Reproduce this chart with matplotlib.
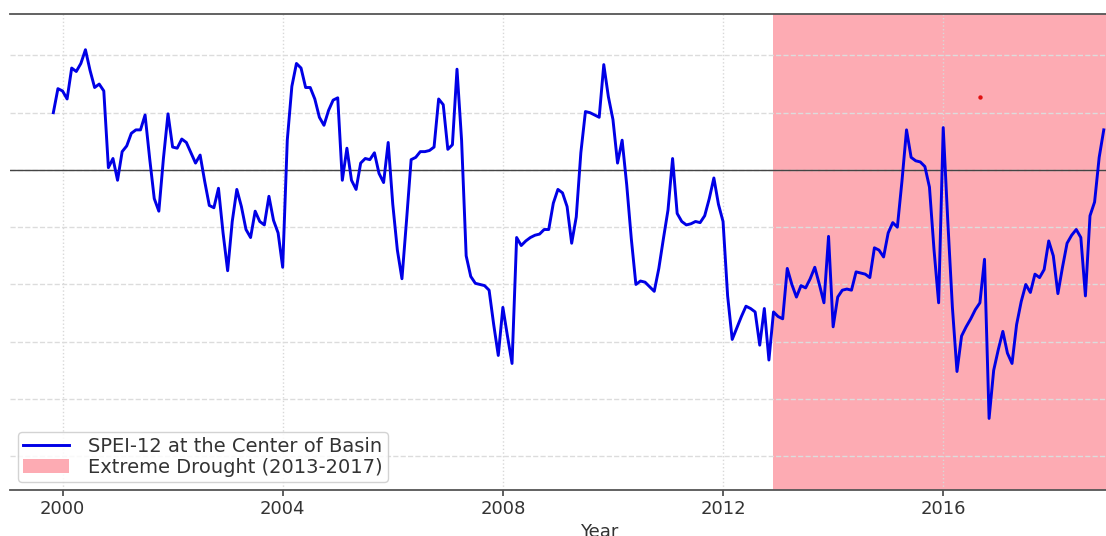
import matplotlib
matplotlib.use("Agg")
import matplotlib.pyplot as plt
import numpy as np
import pandas as pd

# ---- data (monthly SPEI-12) ----
start_month = "1999-11"
spei_values = [
    # 1999 Nov-Dec
    0.50, 0.71,
    # 2000
    0.69, 0.62, 0.89, 0.86, 0.93, 1.05, 0.87, 0.72, 0.75, 0.69, 0.02, 0.10,
    # 2001
    -0.09, 0.16, 0.21, 0.32, 0.35, 0.35, 0.48, 0.10, -0.25, -0.36, 0.10, 0.49,
    # 2002
    0.20, 0.19, 0.27, 0.24, 0.15, 0.06, 0.13, -0.10, -0.31, -0.33, -0.16, -0.55,
    # 2003
    -0.88, -0.45, -0.17, -0.32, -0.52, -0.59, -0.36, -0.45, -0.48, -0.23, -0.44, -0.55,
    # 2004
    -0.85, 0.26, 0.73, 0.93, 0.89, 0.72, 0.72, 0.62, 0.46, 0.39, 0.52, 0.61,
    # 2005
    0.63, -0.09, 0.19, -0.09, -0.17, 0.06, 0.10, 0.09, 0.15, -0.03, -0.11, 0.24,
    # 2006
    -0.30, -0.70, -0.95, -0.44, 0.09, 0.11, 0.16, 0.16, 0.17, 0.20, 0.62, 0.57,
    # 2007
    0.18, 0.22, 0.88, 0.26, -0.75, -0.93, -0.99, -1.00, -1.01, -1.05, -1.35, -1.62,
    # 2008
    -1.20, -1.45, -1.69, -0.59, -0.66, -0.62, -0.59, -0.57, -0.56, -0.52, -0.52, -0.29,
    # 2009
    -0.17, -0.20, -0.32, -0.64, -0.41, 0.15, 0.51, 0.50, 0.48, 0.46, 0.92, 0.64,
    # 2010
    0.44, 0.06, 0.26, -0.13, -0.60, -1.00, -0.97, -0.98, -1.02, -1.06, -0.86, -0.60,
    # 2011
    -0.35, 0.10, -0.38, -0.45, -0.48, -0.47, -0.45, -0.46, -0.40, -0.25, -0.07, -0.30,
    # 2012
    -0.45, -1.10, -1.48, -1.38, -1.28, -1.19, -1.21, -1.24, -1.53, -1.21, -1.66, -1.24,
    # 2013
    -1.28, -1.30, -0.86, -1.00, -1.11, -1.01, -1.03, -0.95, -0.85, -1.00, -1.16, -0.58,
    # 2014
    -1.37, -1.11, -1.05, -1.04, -1.05, -0.89, -0.90, -0.91, -0.94, -0.68, -0.70, -0.76,
    # 2015
    -0.55, -0.46, -0.50, -0.10, 0.35, 0.11, 0.08, 0.07, 0.03, -0.15, -0.70, -1.16,
    # 2016
    0.37, -0.45, -1.20, -1.76, -1.45, -1.37, -1.30, -1.22, -1.16, -0.78, -2.17, -1.75,
    # 2017
    -1.57, -1.41, -1.60, -1.69, -1.35, -1.15, -1.00, -1.07, -0.91, -0.94, -0.87, -0.62,
    # 2018
    -0.75, -1.08, -0.85, -0.64, -0.57, -0.52, -0.59, -1.10, -0.40, -0.28, 0.11, 0.35,
]
drought_span = [2012.9, 2021.0]
marker_x = [2016.67]
marker_y = [0.64]
year_ticks = [2000, 2004, 2008, 2012, 2016]
y_grid = [-2.5, -2.0, -1.5, -1.0, -0.5, 0.0, 0.5, 1.0]
line_label = "SPEI-12 at the Center of Basin"
span_label = "Extreme Drought (2013-2017)"
x_label = "Year"

dates = pd.date_range(start_month, periods=len(spei_values), freq="MS")
x_years = dates.year + (dates.month - 1) / 12.0

W, H = 1106, 536
fig = plt.figure(figsize=(W / 100, H / 100), dpi=100)
ax = fig.add_axes([10 / W, 46 / H, 1178 / W, 476 / H])

ax.axvspan(drought_span[0], drought_span[1], color="#fdabb3", zorder=1,
           label=span_label, lw=0)
ax.axhline(0, color="#444444", lw=1.0, zorder=2)
ax.plot(x_years, spei_values, color="#0000e6", lw=2.1, zorder=3, label=line_label)
ax.scatter(marker_x, marker_y, s=10, color="#e01010", zorder=4, lw=0)

ax.set_xlim(1999.046, 2020.447)
ax.set_ylim(-2.795, 1.362)
ax.set_xticks(year_ticks)
ax.set_xticklabels([str(y) for y in year_ticks])
ax.set_yticks(y_grid)
ax.tick_params(axis="y", left=False, labelleft=False)
ax.tick_params(axis="x", labelsize=13, colors="#333333", length=4, width=1.2,
               color="#444444")
ax.xaxis.grid(True, linestyle=":", color="#d8d8d8", lw=1.0, zorder=1.5)
ax.yaxis.grid(True, linestyle="--", color="#dcdcdc", lw=1.0, zorder=1.5)

for s in ["left", "right"]:
    ax.spines[s].set_visible(False)
for s in ["top", "bottom"]:
    ax.spines[s].set_color("#555555")
    ax.spines[s].set_linewidth(1.3)

ax.set_xlabel(x_label, fontsize=13, color="#333333", labelpad=3)

handles, labels = ax.get_legend_handles_labels()
order = [labels.index(line_label), labels.index(span_label)]
leg = ax.legend([handles[i] for i in order], [labels[i] for i in order],
                loc="lower left", fontsize=14, labelspacing=0.12, borderpad=0.25,
                handlelength=2.35, handletextpad=1.0, framealpha=0.85,
                edgecolor="#cccccc", borderaxespad=0.42)
for t in leg.get_texts():
    t.set_color("#333333")

fig.savefig("out.png", dpi=100)
